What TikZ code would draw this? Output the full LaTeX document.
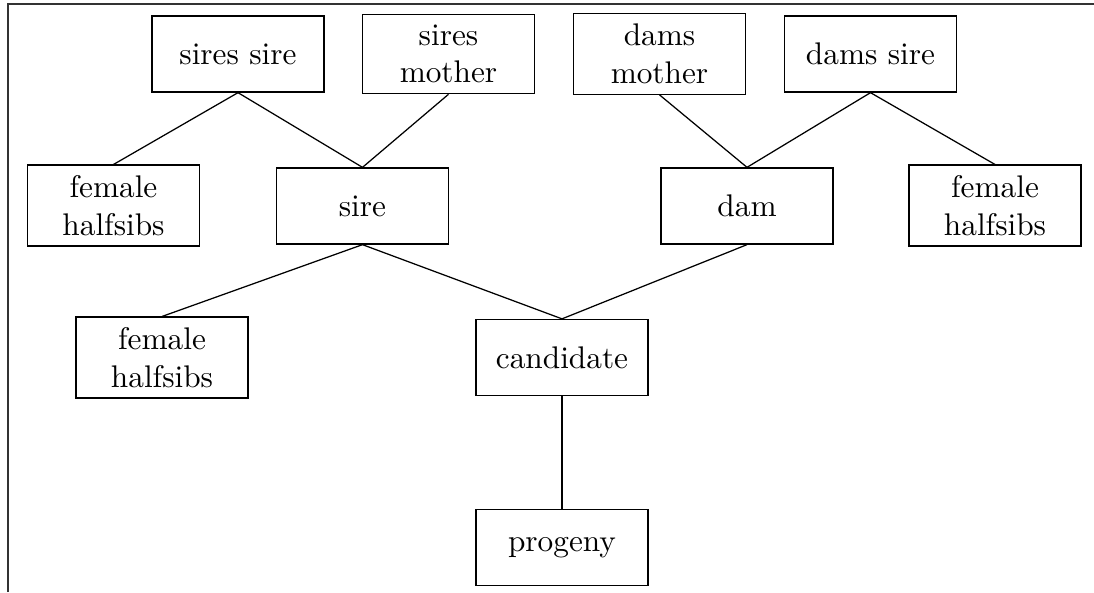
\documentclass[tikz,border=0pt]{standalone}
\begin{document}
\begin{tikzpicture}[x=0.3195pt,y=-0.3195pt,
  box/.style={draw,rectangle,align=center,minimum width=55pt,minimum height=24.3pt,inner sep=3.33pt},
  link/.style={draw,line width=0.4pt}]
\useasboundingbox (0,0) rectangle (1094,592);
\coordinate (frameA) at (8,592);
\coordinate (frameB) at (8,4);
\coordinate (frameC) at (1094,4);
\draw[line width=0.55pt,black!80] (frameA) -- (frameB) -- (frameC);
% top row
\node[box] (ss) at (238,54) {sires sire};
\node[box] (sm) at (448.5,54) {sires\\mother};
\node[box] (dm) at (659.5,54) {dams\\mother};
\node[box] (ds) at (870.5,54) {dams sire};
% second row
\node[box] (fh1) at (113.5,205.5) {female\\halfsibs};
\node[box] (sire) at (362.5,206) {sire};
\node[box] (dam) at (747,206) {dam};
\node[box] (fh2) at (995,205.5) {female\\halfsibs};
% third row
\node[box] (fh3) at (162,357.5) {female\\halfsibs};
\node[box] (cand) at (562,357.5) {candidate};
% bottom
\node[box] (prog) at (562,547.5) {progeny};
% connectors
\draw[link] (ss.south) -- (fh1.north);
\draw[link] (ss.south) -- (sire.north);
\draw[link] (sm.south) -- (sire.north);
\draw[link] (dm.south) -- (dam.north);
\draw[link] (ds.south) -- (dam.north);
\draw[link] (ds.south) -- (fh2.north);
\draw[link] (sire.south) -- (fh3.north);
\draw[link] (sire.south) -- (cand.north);
\draw[link] (dam.south) -- (cand.north);
\draw[link] (cand.south) -- (prog.north);
\end{tikzpicture}
\end{document}
